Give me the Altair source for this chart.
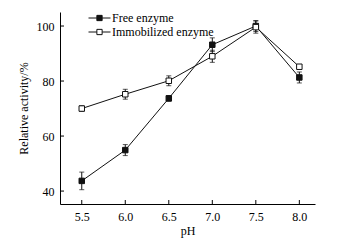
import altair as alt
import pandas as pd

ph = [5.5, 6.0, 6.5, 7.0, 7.5, 8.0]
free_vals = [43.7, 54.9, 73.7, 93.2, 100.0, 81.3]
free_err = [3.2, 2.0, 1.0, 2.5, 2.0, 2.0]
imm_vals = [70.0, 75.2, 80.1, 89.0, 99.6, 85.2]
imm_err = [1.0, 1.8, 1.8, 2.2, 2.2, 0.6]
series_names = ["Free enzyme", "Immobilized enzyme"]
x_ticks = [5.5, 6.0, 6.5, 7.0, 7.5, 8.0]
y_ticks = [40, 60, 80, 100]

rows = []
for name, vals, errs in [(series_names[0], free_vals, free_err), (series_names[1], imm_vals, imm_err)]:
    for p, v, e in zip(ph, vals, errs):
        rows.append({"pH": p, "value": v, "lo": v - e, "hi": v + e, "series": name})
df = pd.DataFrame(rows)

FONT = "Liberation Serif"
FS = 12
xs = alt.Scale(domain=[5.25, 8.18], nice=False, zero=False)
ys = alt.Scale(domain=[35.3, 105.1], nice=False, zero=False)

xax = alt.Axis(values=x_ticks, format=".1f", ticks=False, grid=False, labelPadding=7,
               title="pH", titlePadding=3, domainColor="black", labelColor="black",
               titleColor="black", labelFont=FONT, titleFont=FONT, labelFontSize=FS,
               titleFontSize=FS, titleFontWeight="normal")
yax = alt.Axis(values=y_ticks, ticks=False, grid=False, labelPadding=6,
               title="Relative activity/%", titlePadding=6, domainColor="black",
               labelColor="black", titleColor="black", labelFont=FONT, titleFont=FONT,
               labelFontSize=FS, titleFontSize=FS, titleFontWeight="normal")

base = alt.Chart(df)

lines = base.mark_line(color="#111", strokeWidth=1).encode(
    x=alt.X("pH:Q", scale=xs, axis=xax),
    y=alt.Y("value:Q", scale=ys, axis=yax),
    detail="series:N",
)

err_rule = base.mark_rule(color="#111", strokeWidth=1).encode(
    x="pH:Q", y="lo:Q", y2="hi:Q"
)
cap_lo = base.mark_tick(color="#111", thickness=1, size=5, orient="horizontal").encode(
    x="pH:Q", y="lo:Q"
)
cap_hi = base.mark_tick(color="#111", thickness=1, size=5, orient="horizontal").encode(
    x="pH:Q", y="hi:Q"
)

legend_path = "M-1,0H-0.24M0.24,0H1M-0.24,-0.24H0.24V0.24H-0.24Z"
points = base.mark_point(shape="square", size=30, stroke="#111", strokeWidth=1, opacity=1,
                         filled=False).encode(
    x="pH:Q",
    y="value:Q",
    fill=alt.Fill("series:N",
                  scale=alt.Scale(domain=series_names, range=["#111111", "#ffffff"]),
                  legend=alt.Legend(title=None, orient="none", legendX=28, legendY=-1,
                                    symbolType=legend_path, symbolSize=484,
                                    symbolStrokeColor="#111", symbolStrokeWidth=1,
                                    clipHeight=14, rowPadding=0, labelFont=FONT,
                                    labelFontSize=FS, labelColor="black", labelOffset=1)),
)

tick_y = alt.Chart(pd.DataFrame({"t": y_ticks})).mark_rule(color="black").encode(
    y=alt.Y("t:Q", scale=ys), x=alt.value(0), x2=alt.value(4)
)
tick_x = alt.Chart(pd.DataFrame({"t": x_ticks})).mark_rule(color="black").encode(
    x=alt.X("t:Q", scale=xs), y=alt.value(192), y2=alt.value(188)
)

chart = alt.layer(lines, err_rule, cap_lo, cap_hi, points, tick_y, tick_x).properties(
    width=255, height=192,
    autosize=alt.AutoSizeParams(type="none"),
    padding={"left": 52, "top": 4, "right": 29, "bottom": 34},
).configure_view(stroke=None).configure_axis(domainWidth=1)

chart.save("out.html", embed_options={"renderer": "svg", "actions": False})
